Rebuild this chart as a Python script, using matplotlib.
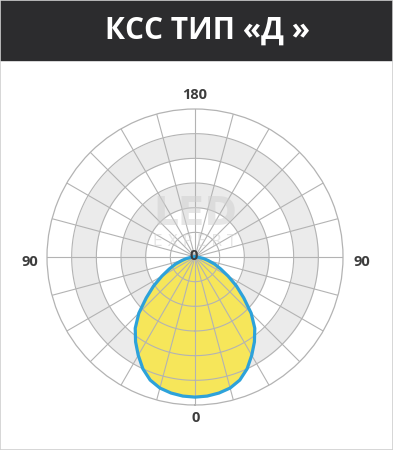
import numpy as np
import matplotlib
matplotlib.use('Agg')
import matplotlib.pyplot as plt
from matplotlib.patches import Rectangle

# light distribution, angle from nadir (deg) -> radius in ring units (outer ring = 6)
angles = [0, 5, 10, 15, 20, 25, 30, 35, 40, 45, 50, 55, 60, 65, 70, 75, 80, 85, 90]
radius = [5.68, 5.66, 5.60, 5.50, 5.31, 5.00, 4.60, 4.20, 3.77, 3.22, 2.58,
          2.05, 1.55, 1.15, 0.85, 0.55, 0.35, 0.15, 0.0]

rings = [1, 2, 3, 4, 5, 6]
shaded_rings = [3, 5]          # outer edge of grey bands
spoke_step = 15

title = 'КСС ТИП «Д »'
labels = {'180': (195, 95), '90 ': (30, 262), ' 90': (362, 262), '0': (196, 418)}

W, H = 393, 450
fig = plt.figure(figsize=(W / 100, H / 100), dpi=100)
fig.patch.set_facecolor('white')

cx, cy, R = 195, 257, 148
ax = fig.add_axes([(cx - R) / W, (H - cy - R) / H, 2 * R / W, 2 * R / H],
                  projection='polar')
ax.set_theta_zero_location('S')
ax.set_ylim(0, 6)
ax.set_xticks([])
ax.set_yticks([])
ax.grid(False)
ax.spines['polar'].set_color('#b3b3b3')
ax.spines['polar'].set_linewidth(0.9)

grid_c = '#b3b3b3'
full = np.linspace(0, 2 * np.pi, 361)
for r in shaded_rings:
    ax.fill_between(full, r - 1, r, color='#ebebeb', zorder=1, lw=0)

# shape
th = np.deg2rad(np.array([-a for a in angles[::-1]] + angles[1:]))
rr = np.array(radius[::-1] + radius[1:])
ax.fill(th, rr, color='#f6e65a', zorder=2, lw=0)

for r in rings[:-1]:
    ax.plot(full, np.full_like(full, r), color=grid_c, lw=0.8, zorder=3)
for a in range(0, 360, spoke_step):
    ax.plot([np.deg2rad(a)] * 2, [0, 6], color=grid_c, lw=0.8, zorder=3)

ax.plot(th, rr, color='#2da2da', lw=2.3, zorder=4, solid_joinstyle='round')

# watermark
fig.text(cx / W, 1 - 214 / H, 'LED', ha='center', va='center', fontsize=28,
         fontweight='bold', color='#cfcfcf', alpha=0.5, family='DejaVu Sans')
fig.text(cx / W, 1 - 241 / H, 'E X P E R T', ha='center', va='center', fontsize=11,
         color='#d5d5d5', alpha=0.6, family='DejaVu Sans')

# header
fig.patches.append(Rectangle((0, 1 - 60 / H), 1, 60 / H, transform=fig.transFigure,
                             color='#2c2c2e', zorder=0))
fig.patches.append(Rectangle((0, 0), 1, 1, transform=fig.transFigure, fill=False,
                             ec='#cfcfcf', lw=1.2, zorder=5))
fig.text(208 / W, 1 - 31 / H, title, ha='center', va='center', color='white',
         fontsize=21.5, fontweight='bold', family=['Open Sans', 'DejaVu Sans'])

for txt, (x, y) in labels.items():
    fig.text(x / W, 1 - y / H, txt.strip(), ha='center', va='center', fontsize=10.5,
             fontweight='bold', color='#3d3d3d', family=['Open Sans', 'DejaVu Sans'])
fig.text(194 / W, 1 - 256 / H, '0', ha='center', va='center', fontsize=10.5,
         fontweight='bold', color='#3d3d3d', family=['Open Sans', 'DejaVu Sans'],
         zorder=10)

fig.savefig('out.png', dpi=100)
